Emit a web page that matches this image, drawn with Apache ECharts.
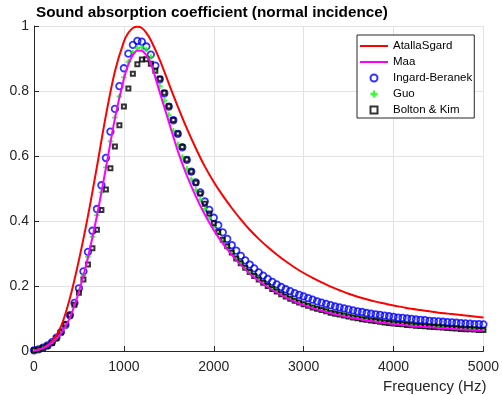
<!DOCTYPE html>
<html>
<head>
<meta charset="utf-8">
<script src="https://cdn.jsdelivr.net/npm/echarts@6/dist/echarts.min.js"></script>
<style>
  html, body { margin: 0; padding: 0; background: #fff; }
  #main { width: 502px; height: 395px; }
</style>
</head>
<body>
<div id="main"></div>
<script>
// frequencies of the marker series (Hz)
const freqPts = [
  0, 50, 100, 150, 200, 250, 300, 350, 400, 450,
  500, 550, 600, 650, 700, 750, 800, 850, 900, 950,
  1000, 1050, 1100, 1150, 1200, 1250, 1300, 1350, 1400, 1450,
  1500, 1550, 1600, 1650, 1700, 1750, 1800, 1850, 1900, 1950,
  2000, 2050, 2100, 2150, 2200, 2250, 2300, 2350, 2400, 2450,
  2500, 2550, 2600, 2650, 2700, 2750, 2800, 2850, 2900, 2950,
  3000, 3050, 3100, 3150, 3200, 3250, 3300, 3350, 3400, 3450,
  3500, 3550, 3600, 3650, 3700, 3750, 3800, 3850, 3900, 3950,
  4000, 4050, 4100, 4150, 4200, 4250, 4300, 4350, 4400, 4450,
  4500, 4550, 4600, 4650, 4700, 4750, 4800, 4850, 4900, 4950,
  5000
];

// frequencies of the two solid lines (Hz), denser round the peak
const freqLine = [
  0, 100, 200, 300, 400, 500, 600, 700, 800, 900,
  1000, 1050, 1100, 1150, 1200, 1250, 1300, 1400, 1500, 1600, 1700, 1800, 1900,
  2000, 2100, 2200, 2300, 2400, 2500, 2600, 2700, 2800, 2900,
  3000, 3100, 3200, 3300, 3400, 3500, 3600, 3700, 3800, 3900,
  4000, 4100, 4200, 4300, 4400, 4500, 4600, 4700, 4800, 4900,
  5000
];

const atallaSgard = [
  0.001, 0.009, 0.03, 0.075, 0.163, 0.28, 0.415, 0.567, 0.725, 0.86,
  0.952, 0.979, 0.994, 0.998, 0.994, 0.979, 0.956, 0.895, 0.823, 0.752, 0.685, 0.624, 0.568,
  0.52, 0.478, 0.44, 0.405, 0.373, 0.345, 0.32, 0.297, 0.276, 0.257,
  0.24, 0.225, 0.211, 0.198, 0.187, 0.176, 0.167, 0.159, 0.152, 0.146,
  0.14, 0.135, 0.13, 0.126, 0.122, 0.118, 0.115, 0.112, 0.109, 0.106,
  0.103
];

const maa = [
  0.001, 0.009, 0.025, 0.054, 0.103, 0.183, 0.288, 0.416, 0.563, 0.715,
  0.838, 0.882, 0.911, 0.925, 0.924, 0.91, 0.885, 0.795, 0.705, 0.615, 0.54, 0.476, 0.42,
  0.372, 0.331, 0.296, 0.265, 0.238, 0.216, 0.197, 0.18, 0.165, 0.152,
  0.141, 0.132, 0.124, 0.116, 0.11, 0.104, 0.099, 0.094, 0.09, 0.086,
  0.083, 0.08, 0.077, 0.075, 0.073, 0.071, 0.069, 0.067, 0.066, 0.064,
  0.063
];

const ingardBeranek = [
  0.002, 0.005, 0.01, 0.017, 0.027, 0.041, 0.058, 0.08, 0.11, 0.148,
  0.193, 0.245, 0.305, 0.37, 0.437, 0.51, 0.594, 0.675, 0.745, 0.815,
  0.87, 0.915, 0.942, 0.954, 0.952, 0.937, 0.912, 0.878, 0.836, 0.793,
  0.752, 0.71, 0.668, 0.627, 0.588, 0.552, 0.519, 0.488, 0.46, 0.434,
  0.41, 0.387, 0.365, 0.345, 0.326, 0.309, 0.293, 0.279, 0.266, 0.254,
  0.242, 0.232, 0.222, 0.213, 0.205, 0.197, 0.19, 0.184, 0.178, 0.173,
  0.168, 0.163, 0.158, 0.153, 0.149, 0.145, 0.141, 0.137, 0.134, 0.131,
  0.128, 0.125, 0.122, 0.12, 0.117, 0.115, 0.113, 0.111, 0.109, 0.107,
  0.105, 0.103, 0.102, 0.1, 0.099, 0.097, 0.096, 0.095, 0.093, 0.092,
  0.091, 0.09, 0.089, 0.088, 0.087, 0.086, 0.085, 0.084, 0.083, 0.083,
  0.082
];

const guo = [
  0.002, 0.005, 0.01, 0.017, 0.026, 0.039, 0.055, 0.076, 0.104, 0.14,
  0.184, 0.233, 0.29, 0.352, 0.418, 0.488, 0.565, 0.645, 0.718, 0.783,
  0.842, 0.89, 0.918, 0.932, 0.935, 0.928, 0.905, 0.865, 0.815, 0.77,
  0.726, 0.678, 0.636, 0.597, 0.561, 0.528, 0.496, 0.466, 0.437, 0.41,
  0.385, 0.361, 0.34, 0.32, 0.302, 0.285, 0.27, 0.256, 0.243, 0.231,
  0.22, 0.21, 0.2, 0.191, 0.183, 0.175, 0.168, 0.161, 0.155, 0.149,
  0.144, 0.139, 0.134, 0.13, 0.126, 0.122, 0.118, 0.115, 0.112, 0.109,
  0.106, 0.103, 0.101, 0.098, 0.096, 0.094, 0.092, 0.09, 0.088, 0.086,
  0.085, 0.083, 0.082, 0.08, 0.079, 0.078, 0.077, 0.076, 0.075, 0.074,
  0.073, 0.072, 0.071, 0.07, 0.069, 0.068, 0.067, 0.067, 0.066, 0.065,
  0.065
];

const boltonKim = [
  0.002, 0.005, 0.01, 0.016, 0.025, 0.039, 0.058, 0.082, 0.11, 0.142,
  0.179, 0.22, 0.266, 0.316, 0.373, 0.434, 0.497, 0.562, 0.629, 0.695,
  0.752, 0.808, 0.853, 0.882, 0.897, 0.898, 0.884, 0.862, 0.838, 0.795,
  0.753, 0.711, 0.669, 0.628, 0.589, 0.552, 0.518, 0.485, 0.453, 0.423,
  0.393, 0.366, 0.342, 0.322, 0.303, 0.285, 0.27, 0.256, 0.243, 0.231,
  0.22, 0.21, 0.2, 0.191, 0.183, 0.175, 0.168, 0.161, 0.155, 0.149,
  0.144, 0.139, 0.134, 0.13, 0.126, 0.122, 0.118, 0.115, 0.112, 0.109,
  0.106, 0.103, 0.101, 0.098, 0.096, 0.094, 0.092, 0.09, 0.088, 0.086,
  0.085, 0.083, 0.082, 0.08, 0.079, 0.078, 0.077, 0.076, 0.075, 0.074,
  0.073, 0.072, 0.071, 0.07, 0.069, 0.068, 0.067, 0.067, 0.066, 0.065,
  0.065
];

const pairs = (xs, ys) => xs.map((x, i) => [x, ys[i]]);

const font = "'Liberation Sans', Arial, Helvetica, sans-serif";
const axisColor = "#262626";
const gridColor = "#e3e3e3";
const plusIcon = "path://M2,0H4V2H6V4H4V6H2V4H0V2H2Z";
const squareIcon = "path://M0,0H10V10H0Z";
const lineIcon = "path://M0,0H28V2H0Z";

let myChart = echarts.init(document.getElementById("main"), null, { renderer: "canvas" });
let option;
option = {
  animation: false,
  backgroundColor: "#fff",
  title: {
    text: "Sound absorption coefficient (normal incidence)",
    left: 36,
    top: 5,
    padding: 0,
    textStyle: { fontFamily: font, fontSize: 15.3, fontWeight: "bold", color: "#000" },
  },
  legend: {
    orient: "vertical",
    left: 357,
    top: 35,
    padding: [5, 2, 2, 3],
    itemWidth: 28,
    itemHeight: 7,
    itemGap: 4,
    backgroundColor: "#fff",
    borderColor: axisColor,
    borderWidth: 1,
    textStyle: { fontFamily: font, fontSize: 11.5, lineHeight: 12, color: "#000" },
    data: [
      { name: "AtallaSgard", icon: lineIcon },
      { name: "Maa", icon: lineIcon },
      { name: "Ingard-Beranek" },
      { name: "Guo" },
      { name: "Bolton & Kim" },
    ],
  },
  grid: { left: 34, right: 18, top: 26, bottom: 44, containLabel: false },
  xAxis: {
    type: "value",
    min: 0,
    max: 5000,
    interval: 1000,
    name: "Frequency (Hz)",
    nameLocation: "end",
    nameGap: 3,
    nameTextStyle: {
      fontFamily: font, fontSize: 15, color: axisColor,
      align: "right", verticalAlign: "top", padding: [28, 0, 0, 0],
    },
    axisLine: { show: true, onZero: false, lineStyle: { color: axisColor, width: 1 } },
    axisTick: { show: true, inside: true, length: 5, lineStyle: { color: axisColor } },
    axisLabel: {
      fontFamily: font, fontSize: 14, color: axisColor, margin: 9,
      formatter: (v) => String(v),
    },
    splitLine: { show: true, lineStyle: { color: gridColor, width: 1 } },
  },
  yAxis: {
    type: "value",
    min: 0,
    max: 1,
    interval: 0.2,
    axisLine: { show: true, lineStyle: { color: axisColor, width: 1 } },
    axisTick: { show: true, inside: true, length: 5, lineStyle: { color: axisColor } },
    axisLabel: { fontFamily: font, fontSize: 14, color: axisColor, margin: 5 },
    splitLine: { show: true, lineStyle: { color: gridColor, width: 1 } },
  },
  series: [
    {
      name: "AtallaSgard",
      type: "line",
      data: pairs(freqLine, atallaSgard),
      symbol: "none",
      smooth: 0.3,
      itemStyle: { color: "#ff0000" },
      lineStyle: { color: "#ff0000", width: 2 },
    },
    {
      name: "Maa",
      type: "line",
      data: pairs(freqLine, maa),
      symbol: "none",
      smooth: 0.3,
      itemStyle: { color: "#ff00ff" },
      lineStyle: { color: "#ff00ff", width: 2 },
    },
    {
      name: "Ingard-Beranek",
      type: "scatter",
      data: pairs(freqPts, ingardBeranek),
      symbol: "circle",
      symbolSize: 6.5,
      itemStyle: { color: "rgba(0,0,0,0)", borderColor: "#0000ff", borderWidth: 1.8 },
    },
    {
      name: "Guo",
      type: "scatter",
      data: pairs(freqPts, guo),
      symbol: plusIcon,
      symbolSize: 5.5,
      itemStyle: { color: "#00ff00" },
    },
    {
      name: "Bolton & Kim",
      type: "scatter",
      data: pairs(freqPts, boltonKim),
      symbol: squareIcon,
      symbolSize: 4,
      itemStyle: { color: "rgba(0,0,0,0)", borderColor: "#000000", borderWidth: 2 },
    },
  ],
};
myChart.setOption(option);
</script>
</body>
</html>
